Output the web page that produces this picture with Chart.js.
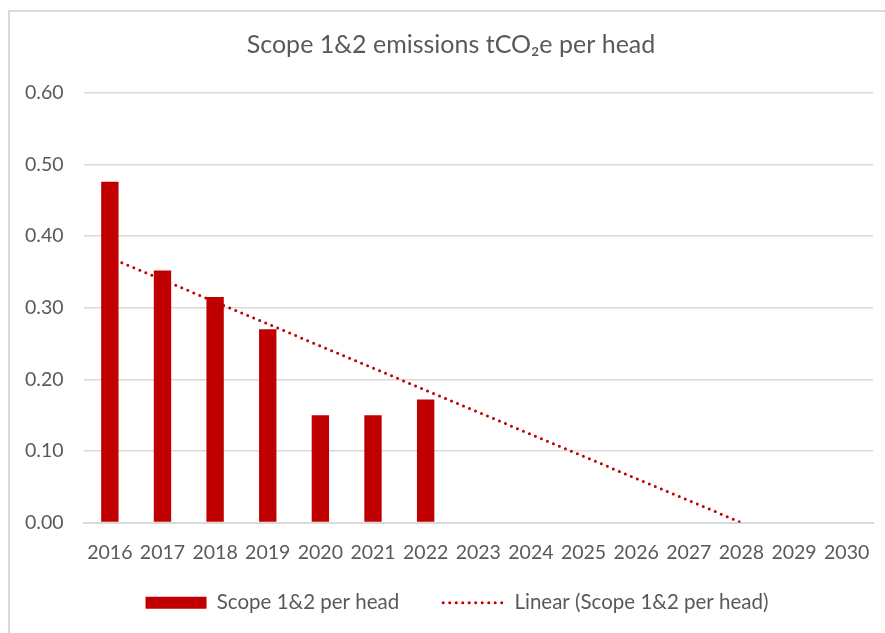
<!DOCTYPE html>
<html>
<head>
<meta charset="utf-8">
<script src="https://cdn.jsdelivr.net/npm/chart.js@4.4.1/dist/chart.umd.min.js"></script>
<style>
    html, body { margin: 0; padding: 0; background: #ffffff; }
    #wrap { width: 885px; height: 633px; }
</style>
</head>
<body>
<div id="wrap"><canvas id="emissionsChart" width="885" height="633"></canvas></div>
<script>
const years = ['2016', '2017', '2018', '2019', '2020', '2021', '2022', '2023',
    '2024', '2025', '2026', '2027', '2028', '2029', '2030'];
const perHead = [0.476, 0.352, 0.315, 0.270, 0.150, 0.150, 0.172];
// trendline end points
const trendYears = ['2016', '2028'];
const trendValues = [0.370, 0.000];
const yTicks = [0, 0.1, 0.2, 0.3, 0.4, 0.5, 0.6];

const red = '#c00000';
const grey = '#595959';
const fontFamily = 'Lato, "Open Sans", sans-serif';
const dots = [0, 6.5];

// light frame round the chart, like the original's chart border
const framePlugin = {
    id: 'frame',
    beforeDraw(chart) {
        const ctx = chart.ctx;
        ctx.save();
        ctx.strokeStyle = '#d9d9d9';
        ctx.lineWidth = 2;
        ctx.strokeRect(9, 11, chart.width + 20, chart.height + 20);
        ctx.restore();
    }
};

// the original chart is wider than the crop, so title and legend sit a bit right of centre;
// the legend also sits closer to the axis labels than its padding would allow
const nudgePlugin = {
    id: 'nudge',
    afterLayout(chart) {
        const t = chart.titleBlock;
        t.left += 12;
        t.right += 12;
        const l = chart.legend;
        l.left += 18;
        l.right += 18;
        l.top = chart.chartArea.bottom + 26;
    }
};

document.addEventListener('DOMContentLoaded', () => {
    const ctx = document.getElementById('emissionsChart').getContext('2d');

    new Chart(ctx, {
        type: 'bar',
        data: {
            labels: years,
            datasets: [{
                type: 'line',
                label: 'Linear (Scope 1&2 per head)',
                data: trendYears.map((y, i) => ({ x: y, y: trendValues[i] })),
                borderColor: red,
                backgroundColor: red,
                borderWidth: 3,
                borderDash: dots,
                borderCapStyle: 'round',
                pointRadius: 0,
                fill: false,
                order: 1
            }, {
                label: 'Scope 1&2 per head',
                data: perHead,
                backgroundColor: red,
                borderWidth: 0,
                barPercentage: 0.33,
                categoryPercentage: 1,
                order: 2
            }]
        },
        options: {
            responsive: false,
            animation: false,
            layout: {
                padding: { left: 5, right: 12, top: 10, bottom: 12 }
            },
            plugins: {
                title: {
                    display: true,
                    text: 'Scope 1&2 emissions tCO₂e per head',
                    color: grey,
                    font: { family: fontFamily, size: 25, weight: 'normal' },
                    padding: { top: 20, bottom: 33 }
                },
                legend: {
                    position: 'bottom',
                    reverse: true,
                    maxHeight: 47,
                    labels: {
                        color: grey,
                        font: { family: fontFamily, size: 20.5 },
                        usePointStyle: true,
                        pointStyleWidth: 61,
                        boxHeight: 12,
                        padding: 44,
                        generateLabels: chart => {
                            const items = Chart.defaults.plugins.legend.labels.generateLabels(chart);
                            items.forEach(item => {
                                if (item.datasetIndex === 0) {
                                    item.pointStyle = 'line';
                                    item.lineDash = dots;
                                    item.lineCap = 'round';
                                    item.lineWidth = 3;
                                    item.strokeStyle = red;
                                } else {
                                    item.pointStyle = 'rect';
                                    item.lineWidth = 0;
                                    item.fillStyle = red;
                                    item.strokeStyle = red;
                                }
                            });
                            return items;
                        }
                    }
                },
                tooltip: { enabled: false }
            },
            scales: {
                x: {
                    grid: { display: false },
                    border: { display: true, color: '#d9d9d9', width: 2 },
                    ticks: {
                        color: grey,
                        font: { family: fontFamily, size: 19.5 },
                        maxRotation: 0,
                        autoSkip: false,
                        padding: 10
                    }
                },
                y: {
                    min: yTicks[0],
                    max: yTicks[yTicks.length - 1],
                    afterBuildTicks: axis => {
                        axis.ticks = yTicks.map(v => ({ value: v }));
                    },
                    grid: { color: '#d9d9d9', lineWidth: 1.5, drawTicks: false },
                    border: { display: false },
                    ticks: {
                        color: grey,
                        font: { family: fontFamily, size: 19.5 },
                        padding: 20,
                        callback: value => value.toFixed(2)
                    }
                }
            }
        },
        plugins: [framePlugin, nudgePlugin]
    });
});
</script>
</body>
</html>
